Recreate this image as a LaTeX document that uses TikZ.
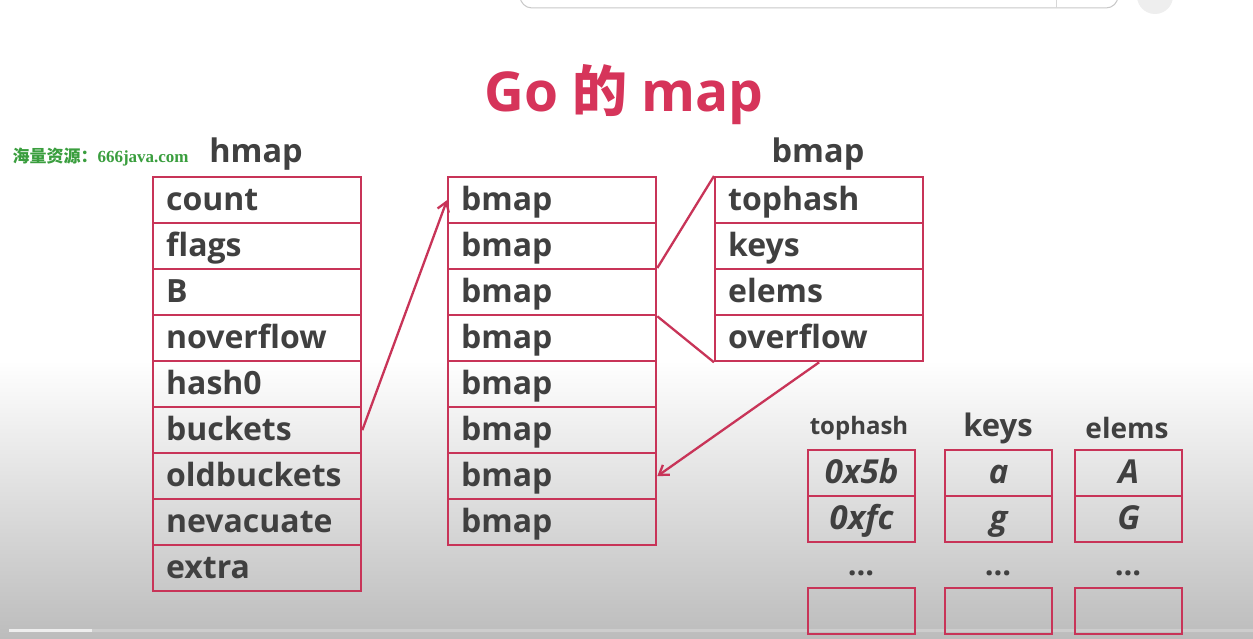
\documentclass[tikz,border=0pt]{standalone}
\usepackage{fontspec}
\setmainfont{Open Sans}
\newfontfamily\cjk{Noto Sans CJK SC}
\newfontfamily\serifb{Liberation Serif}
\usetikzlibrary{arrows.meta}
\definecolor{crim}{RGB}{200,52,88}
\definecolor{titlered}{RGB}{214,52,90}
\definecolor{ink}{RGB}{64,64,64}
\definecolor{mark}{RGB}{58,158,62}
\definecolor{shadebot}{RGB}{188,188,188}
\definecolor{barline}{RGB}{200,200,200}
\definecolor{barsep}{RGB}{215,215,215}
\definecolor{btn}{RGB}{238,238,238}
\definecolor{track}{RGB}{205,205,205}
\definecolor{played}{RGB}{238,238,238}
\tikzset{
  cell/.style={draw=crim, line width=2.3pt, anchor=north west, inner ysep=0pt,
    inner xsep=13pt, text width=182pt, minimum height=46pt, align=left,
    text height=24pt, text depth=4pt,
    text=ink, font=\fontsize{32}{32}\selectfont\bfseries},
  valcell/.style={draw=crim, line width=2.3pt, anchor=north west, inner sep=0pt,
    minimum width=107pt, minimum height=46pt, text=ink,
    text height=24pt, text depth=4pt,
    font=\fontsize{33}{33}\selectfont\bfseries\itshape},
  emptycell/.style={draw=crim, line width=2.3pt, anchor=north west, inner sep=0pt,
    minimum width=107pt, minimum height=46pt},
  head/.style={text=ink, font=\fontsize{32.5}{32.5}\selectfont\bfseries},
  link/.style={draw=crim, line width=2.3pt},
  arrowlink/.style={link, -{Straight Barb[length=9pt,width=12pt]}},
  dots/.style={text=ink, font=\fontsize{31}{31}\selectfont\bfseries}
}
\begin{document}
\begin{tikzpicture}[x=1pt,y=-1pt]
\useasboundingbox (0,0) rectangle (1253,639);
% page background: white fading to grey towards the bottom
\fill[white] (0,0) rectangle (1253,639);
\shade[top color=white, bottom color=shadebot] (0,360) rectangle (1253,639);
% browser search field and button at the top edge
\fill[white,draw=barline,line width=1pt,rounded corners=12pt] (520,-20) rectangle (1118,8);
\draw[barsep,line width=1pt] (1056,-2) -- (1056,8);
\fill[btn] (1155,-4) circle (18);
% progress bar along the bottom edge
\fill[track] (9,629) rectangle (1253,632);
\fill[played] (9,629) rectangle (92,632);

% title
\node[text=titlered, font=\fontsize{55}{55}\selectfont\bfseries] (title) at (624,95) {Go {\cjk\bfseries 的} map};
\node[text=mark, font=\fontsize{17}{17}\selectfont\bfseries, anchor=west] (wm) at (9,157) {{\cjk 海量资源：}{\serifb 666java.com}};

% hmap struct
\node[head] (hmaphead) at (256,154) {hmap};
\node[cell] (h1) at (152,176) {count};
\node[cell] (h2) at (152,222) {flags};
\node[cell] (h3) at (152,268) {B};
\node[cell] (h4) at (152,314) {noverflow};
\node[cell] (h5) at (152,360) {hash0};
\node[cell] (h6) at (152,406) {buckets};
\node[cell] (h7) at (152,452) {oldbuckets};
\node[cell] (h8) at (152,498) {nevacuate};
\node[cell] (h9) at (152,544) {extra};

% bucket array
\foreach \i in {1,...,8}
  \node[cell] (b\i) at (447,{176+46*(\i-1)}) {bmap};

% bmap struct
\node[head] (bmaphead) at (818,154) {bmap};
\node[cell] (s1) at (714,176) {tophash};
\node[cell] (s2) at (714,222) {keys};
\node[cell] (s3) at (714,268) {elems};
\node[cell] (s4) at (714,314) {overflow};

% connectors
\draw[arrowlink] (h6.east) -- (b1.west);
\draw[link] (b3.north east) -- (s1.north west);
\draw[link] (b3.south east) -- (s4.south west);
\draw[arrowlink] (s4.south) -- (b7.east);

% bucket contents
\node[text=ink, font=\fontsize{24}{24}\selectfont\bfseries] (th) at (859,428) {tophash};
\node[text=ink, font=\fontsize{31}{31}\selectfont\bfseries] (kh) at (998,428) {keys};
\node[text=ink, font=\fontsize{28}{28}\selectfont\bfseries] (eh) at (1127,428) {elems};

\node[valcell] (t1) at (807,449) {0x5b};
\node[valcell] (t2) at (807,495) {0xfc};
\node[valcell] (k1) at (944,449) {a};
\node[valcell] (k2) at (944,495) {g};
\node[valcell] (e1) at (1074,449) {A};
\node[valcell] (e2) at (1074,495) {G};

\node[dots] (td) at (861,573) {...};
\node[dots] (kd) at (998,573) {...};
\node[dots] (ed) at (1128,573) {...};

\node[emptycell] (t3) at (807,587) {};
\node[emptycell] (k3) at (944,587) {};
\node[emptycell] (e3) at (1074,587) {};
\end{tikzpicture}
\end{document}
